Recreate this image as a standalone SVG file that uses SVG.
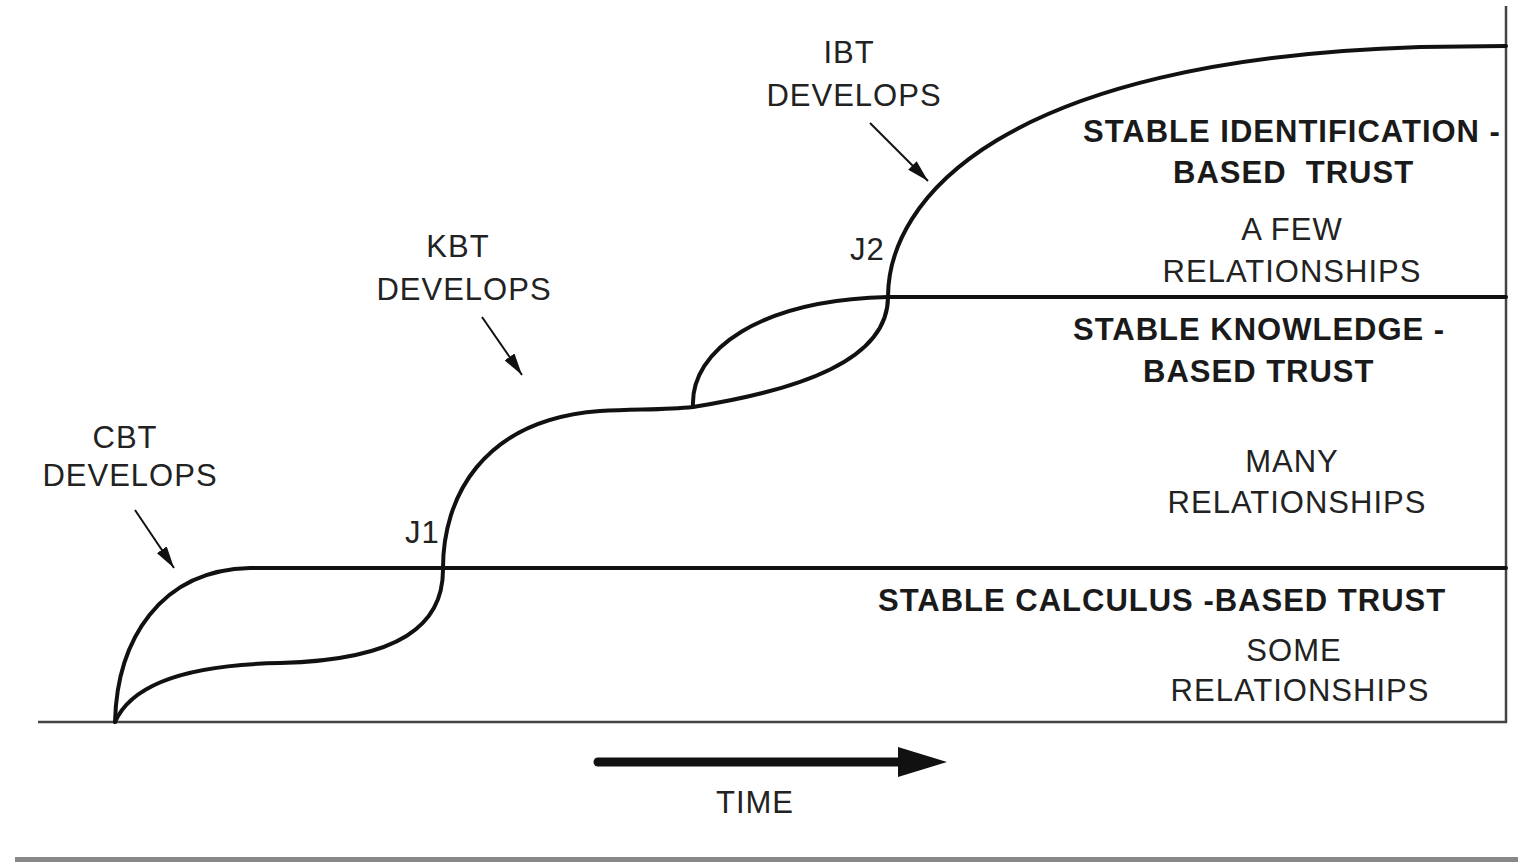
<svg xmlns="http://www.w3.org/2000/svg" width="1518" height="865" viewBox="0 0 1518 865">
<style>
text{font-family:"Liberation Sans",Arial,sans-serif;font-size:31px;fill:#222;letter-spacing:1px}
.b{font-weight:bold;fill:#1a1a1a}
.m{text-anchor:middle}
.curve{fill:none;stroke:#111;stroke-width:4;stroke-linecap:round}
.frame{fill:none;stroke:#444;stroke-width:2.5}
.ptr{stroke:#111;stroke-width:2;fill:none}
</style>
<defs>
<marker id="ah" viewBox="0 0 22 12" refX="22" refY="6" markerWidth="22" markerHeight="12" markerUnits="userSpaceOnUse" orient="auto">
<path d="M0,0 L22,6 L0,12 z" fill="#111"/>
</marker>
</defs>
<rect width="1518" height="865" fill="#fff"/>
<g id="frame">
<path class="frame" d="M38,722 L1506,722 L1506,6"/>
<rect x="15" y="857" width="1503" height="5" fill="#888"/>
</g>
<g id="connectors">
<path class="curve" d="M115,722 C117,640 160,570 250,568 L1506,568"/>
<path class="curve" d="M115,722 C128,692 170,665 280,663 C400,660 444,625 443,568 C443,500 480,420 600,411 C640,409 665,410 693,407 C800,390 888,360 888,297 C888,200 1000,60 1420,47 L1506,46"/>
<path class="curve" d="M693,407 C690,350 760,300 888,297 L1506,297"/>
<line class="ptr" x1="135" y1="510" x2="174" y2="568" marker-end="url(#ah)"/>
<line class="ptr" x1="482" y1="317" x2="522" y2="375" marker-end="url(#ah)"/>
<line class="ptr" x1="870" y1="123" x2="928" y2="181" marker-end="url(#ah)"/>
<line x1="598" y1="762" x2="905" y2="762" stroke="#111" stroke-width="9" stroke-linecap="round"/>
<polygon points="898,747 947,762 898,777" fill="#111"/>
</g>
<g id="cbt"><text class="m" x="125" y="448">CBT</text><text class="m" x="130" y="486">DEVELOPS</text></g>
<g id="kbt"><text class="m" x="458" y="257">KBT</text><text class="m" x="464" y="300">DEVELOPS</text></g>
<g id="ibt"><text class="m" x="849" y="63">IBT</text><text class="m" x="854" y="106">DEVELOPS</text></g>
<g id="j1"><text x="405" y="543">J1</text></g>
<g id="j2"><text x="850" y="260">J2</text></g>
<g id="ibt-stable">
<text class="b" x="1083" y="142">STABLE IDENTIFICATION -</text>
<text class="b" x="1173" y="183" xml:space="preserve" style="white-space:pre">BASED  TRUST</text>
<text class="m" x="1292" y="240">A FEW</text>
<text class="m" x="1292" y="282">RELATIONSHIPS</text>
</g>
<g id="kbt-stable">
<text class="b" x="1073" y="340">STABLE KNOWLEDGE -</text>
<text class="b" x="1143" y="382">BASED TRUST</text>
<text class="m" x="1292" y="472">MANY</text>
<text class="m" x="1297" y="513">RELATIONSHIPS</text>
</g>
<g id="cbt-stable">
<text class="b" x="878" y="611">STABLE CALCULUS -BASED TRUST</text>
<text class="m" x="1294" y="661">SOME</text>
<text class="m" x="1300" y="701">RELATIONSHIPS</text>
</g>
<g id="time"><text class="m" x="755" y="813">TIME</text></g>
</svg>
